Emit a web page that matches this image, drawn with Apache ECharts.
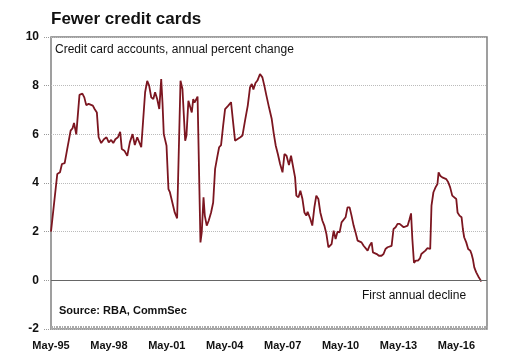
<!DOCTYPE html>
<html>
<head>
<meta charset="utf-8">
<script src="https://cdn.jsdelivr.net/npm/echarts@6/dist/echarts.min.js"></script>
<style>
html,body{margin:0;padding:0;background:#fff;}
#c{width:516px;height:361px;}
</style>
</head>
<body>
<div id="c"></div>
<script>
// Months since May-1995 (x positions of readings)
var months = [0,3.9,5.6,6.8,8.5,10.1,12.2,13.4,14.3,15.7,17.7,19.5,20.7,21.9,23.4,24.6,26,27.1,28.5,29.6,31.2,32.9,34.5,35.9,37.4,38.7,40,41.6,43,
44,45.6,47.4,49,50.7,52.1,53.6,54.8,56.1,58.5,59.8,61,62.3,63.6,64.7,66,67.3,68.5,69.3,70.1,71.8,73,73.9,76.9,78.4,79.6,80.5,81.7,83.4,84.2,85.4,86.6,87.5,88.4,89.2,91.1,
92.9,93.7,94.8,95.6,96.8,98,99.5,100.8,102,103.3,104.5,105.7,107,108.2,109.4,110.2,111.9,113.2,114.4,116,117.7,119,120.6,122.3,123.7,124.8,125.8,127.1,128.3,129.9,131.4,132.6,133.9,135.5,137.2,138.5,139.7,141,142.4,143.9,
145.1,146.4,147.9,149.2,150.4,151.7,152.5,153.8,155,156.3,157.5,158.7,159.5,161.2,162.4,163.7,164.9,166.2,167.4,168.7,169.9,171.2,172.4,173.6,174.4,175.7,176.9,178.1,179.4,180.6,181.8,183.1,184.3,185.6,186.8,188.1,189.3,190.6,191.8,193,194.3,195.5,196.8,198,199.3,200.1,201.3,202.5,203.8,205.4,206.7,207.9,209.2,210.4,211.7,212.9,214.2,215.4,216.7,217.9,219.2,220.4,221.7,222.8,223.8,224.6,225.6,226.8,228.1,229.3,230.2,231.4,232.7,233.9,234.8,235.7,
236.5,237.7,239,240.2,240.9,241.9,243.2,244.4,245.7,246.9,248.1,249.4,250.6,251.9,252.7,253.9,255.2,256,256.8,258.1,259.3,260.6,261.4,262.2,263.1,264.3,265.6,266.8,267.5];
// Credit card accounts, annual percent change
var values = [2.0,4.37,4.44,4.78,4.82,5.4,6.15,6.25,6.47,6.0,7.62,7.67,7.52,7.2,7.25,7.3,7.18,7.04,6.9,5.88,5.64,5.8,5.88,5.67,5.77,5.64,5.8,5.88,6.1,
5.4,5.33,5.12,5.67,6.01,5.56,5.88,5.95,5.47,7.73,8.2,8.0,7.52,7.45,7.73,7.45,7.04,8.27,7.3,6.01,5.53,3.75,3.62,2.79,2.55,2.55,8.2,7.86,5.74,5.95,7.38,7.45,6.9,7.45,7.3,7.55,
1.56,1.97,3.41,2.66,2.25,2.45,2.79,3.2,4.58,5.05,5.47,5.56,6.36,7.04,7.11,7.18,7.32,6.49,5.74,5.81,5.88,5.95,6.56,7.18,7.93,8.07,7.84,8.11,8.21,8.48,8.34,8.0,7.59,7.11,6.63,6.01,5.53,5.19,4.78,4.44,
5.19,5.12,4.74,5.12,5.19,4.23,3.48,3.41,3.68,3.34,2.79,2.66,2.82,2.52,2.25,3.0,3.48,3.34,2.79,2.45,2.25,1.9,1.36,1.29,1.49,2.04,1.7,2.0,1.97,2.38,2.3,2.59,3.0,3.0,2.66,2.25,1.97,1.63,1.7,1.56,1.42,1.36,1.22,1.42,1.56,1.15,1.15,1.08,1.01,1.01,1.08,1.29,1.36,1.29,1.42,2.11,2.18,2.32,2.32,2.25,2.18,2.11,2.25,2.5,2.75,1.7,0.72,0.81,0.81,0.9,1.08,1.15,1.22,1.32,1.26,1.29,
3.07,3.62,3.82,3.96,4.44,4.3,4.23,4.23,4.16,4.03,3.82,3.48,3.41,3.34,2.79,2.66,2.59,2.11,1.77,1.56,1.29,1.22,1.08,0.88,0.53,0.33,0.16,0.03,-0.05];
var yTicks = [-2,0,2,4,6,8,10];
var xTickLabels = ['May-95','May-98','May-01','May-04','May-07','May-10','May-13','May-16'];
var titleText = 'Fewer credit cards';
var subtitleText = 'Credit card accounts, annual percent change';
var sourceText = 'Source: RBA, CommSec';
var noteText = 'First annual decline';

var data = months.map(function(m,i){return [m, values[i]];});
var FONT = 'Liberation Sans, Arial, sans-serif';

var chart = echarts.init(document.getElementById('c'), null, {renderer:'canvas'});
chart.setOption({
  animation:false,
  backgroundColor:'#fff',
  title:{
    text:titleText, left:51, top:11, padding:0,
    textStyle:{fontFamily:FONT,fontSize:17,fontWeight:'bold',color:'#111'}
  },
  grid:{left:51,right:29,top:37,bottom:32,show:true,borderColor:'#808080',borderWidth:1.5,containLabel:false},
  xAxis:{
    type:'value', min:0, max:271, interval:1, position:'bottom',
    axisLine:{show:false,onZero:false},
    splitLine:{show:false},
    axisTick:{show:true,inside:true,length:3,lineStyle:{color:'#aaa',width:1}},
    axisLabel:{
      show:true, margin:11, fontFamily:FONT, fontSize:11, fontWeight:'bold', color:'#111',
      showMinLabel:true, showMaxLabel:true, hideOverlap:false,
      formatter:function(v){
        if (v % 36 === 0) { var k = v/36; return xTickLabels[k] || ''; }
        return '';
      }
    }
  },
  yAxis:{
    type:'value', min:yTicks[0], max:yTicks[yTicks.length-1], interval:2,
    axisLine:{show:false},
    axisTick:{show:true,length:8,lineStyle:{color:'#999',type:'dotted'}},
    splitLine:{show:true,lineStyle:{color:'#bbb',type:'dotted',width:1}},
    axisLabel:{margin:12,fontFamily:FONT,fontSize:12,fontWeight:'bold',color:'#111'}
  },
  series:[{
    type:'line', data:data, showSymbol:false, smooth:false,
    lineStyle:{color:'#7c1620',width:1.8},
    markLine:{
      silent:true, symbol:'none', label:{show:false},
      lineStyle:{color:'#666',type:'solid',width:1},
      data:[{yAxis:0}]
    }
  }],
  graphic:[
    {type:'text',left:55,top:44,style:{text:subtitleText,font:'12px '+FONT,fill:'#111'}},
    {type:'text',left:59,top:305,style:{text:sourceText,font:'bold 11px '+FONT,fill:'#111'}},
    {type:'text',left:362,top:290,style:{text:noteText,font:'12px '+FONT,fill:'#111'}}
  ]
});
</script>
</body>
</html>
